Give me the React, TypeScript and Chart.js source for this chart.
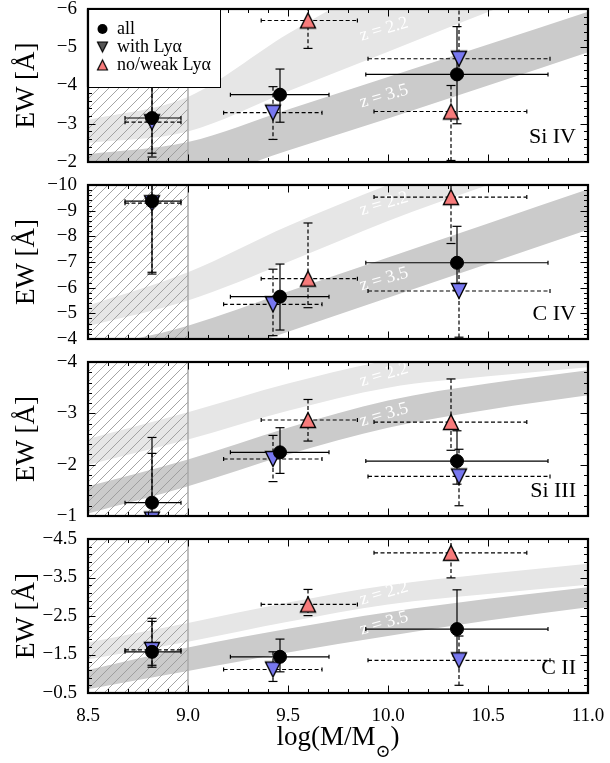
import React, { useEffect, useRef } from 'react';
import { Chart, registerables } from 'chart.js';

Chart.register(...registerables);

const SERIF = '"Liberation Serif", "DejaVu Serif", serif';
const LIGHT = '#e6e6e6';
const DARK = '#cbcbcb';
const BLUE = '#7878f0';
const RED = '#f77b7b';

// ---------- shared x data ----------
const xTicks = [8.5, 9.0, 9.5, 10.0, 10.5, 11.0];
const hatchRange = [8.5, 9.0];
const bandX = [8.5, 9.0, 9.5, 10.0, 10.5, 11.0];
const zLabelX = 9.98;

const allX = [8.82, 9.46, 10.345];
const allXLo = [8.685, 9.212, 9.889];
const allXHi = [8.965, 9.705, 10.8];
const withX = [8.82, 9.425, 10.355];
const withXLo = [8.685, 9.178, 9.9];
const withXHi = [8.965, 9.67, 10.81];
const weakX = [9.6, 10.315];
const weakXLo = [9.366, 9.93];
const weakXHi = [9.847, 10.694];

const panelNames = ['Si IV', 'C IV', 'Si III', 'C II'];
const legendLabels = ['all', 'with Ly\u03b1', 'no/weak Ly\u03b1'];
const bandLabels = ['z = 2.2', 'z = 3.5'];

// ---------- Si IV ----------
const siivTicks = [-6, -5, -4, -3, -2];
const siivAll = [-3.15, -3.76, -4.29];
const siivAllLo = [-4.1, -4.43, -5.54];
const siivAllHi = [-2.23, -3.04, -3.0];
const siivWith = [-3.04, -3.29, -4.7];
const siivWithLo = [-3.95, -3.97, -6.3];
const siivWithHi = [-2.13, -2.59, -4.25];
const siivWeak = [-5.7, -3.32];
const siivWeakLo = [-6.4, -4.0];
const siivWeakHi = [-4.97, -2.04];
const siivLightTop = [-3.1, -3.7, -5.35, -6.8, -8.0, -9.0];
const siivLightBot = [-2.5, -2.8, -3.85, -4.88, -5.92, -6.9];
const siivDarkTop = [-2.2, -2.52, -3.37, -4.22, -5.07, -5.93];
const siivDarkBot = [-1.1, -1.45, -2.3, -3.14, -4.0, -4.87];
const siivZ = [-5.47, -3.72];

// ---------- C IV ----------
const civTicks = [-10, -9, -8, -7, -6, -5, -4];
const civAll = [-9.37, -5.65, -6.97];
const civAllLo = [-12.2, -6.92, -8.39];
const civAllHi = [-6.53, -4.35, -5.9];
const civWith = [-9.29, -5.35, -5.87];
const civWithLo = [-12.0, -6.72, -7.0];
const civWithHi = [-6.6, -4.13, -4.07];
const civWeak = [-6.35, -9.53];
const civWeakLo = [-8.52, -10.5];
const civWeakHi = [-5.22, -7.72];
const civLightTop = [-5.3, -6.6, -8.4, -10.0, -11.4, -12.6];
const civLightBot = [-4.5, -5.5, -7.0, -8.6, -10.0, -11.3];
const civDarkTop = [-3.6, -4.52, -5.85, -7.18, -8.5, -9.83];
const civDarkBot = [-2.1, -2.95, -4.28, -5.61, -6.93, -8.26];
const civZ = [-9.27, -6.33];

// ---------- Si III ----------
const siiiTicks = [-4, -3, -2, -1];
const siiiAll = [-1.26, -2.24, -2.07];
const siiiAllLo = [-2.53, -2.72, -2.66];
const siiiAllHi = [0.0, -1.83, -1.62];
const siiiWith = [-0.93, -2.11, -1.77];
const siiiWithLo = [-2.22, -2.57, -2.3];
const siiiWithHi = [0.3, -1.67, -1.2];
const siiiWeak = [-2.87, -2.83];
const siiiWeakLo = [-3.27, -3.67];
const siiiWeakHi = [-2.46, -2.28];
const siiiLightTop = [-2.5, -3.02, -3.58, -4.03, -4.25, -4.42];
const siiiLightBot = [-2.0, -2.49, -3.05, -3.5, -3.72, -3.9];
const siiiDarkTop = [-1.58, -2.1, -2.72, -3.25, -3.58, -3.84];
const siiiDarkBot = [-1.05, -1.58, -2.2, -2.72, -3.07, -3.35];
const siiiZ = [-3.75, -2.97];

// ---------- C II ----------
const ciiTicks = [-4.5, -3.5, -2.5, -1.5, -0.5];
const ciiAll = [-1.57, -1.44, -2.16];
const ciiAllLo = [-2.44, -1.9, -3.18];
const ciiAllHi = [-1.17, -1.05, -1.46];
const ciiWith = [-1.62, -1.11, -1.35];
const ciiWithLo = [-2.36, -1.57, -1.98];
const ciiWithHi = [-1.22, -0.8, -0.7];
const ciiWeak = [-2.8, -4.14];
const ciiWeakLo = [-3.19, -4.9];
const ciiWeakHi = [-2.51, -3.49];
const ciiLightTop = [-1.81, -2.32, -2.85, -3.3, -3.6, -3.86];
const ciiLightBot = [-1.37, -1.83, -2.35, -2.8, -3.07, -3.31];
const ciiDarkTop = [-1.1, -1.68, -2.17, -2.6, -2.95, -3.25];
const ciiDarkBot = [-0.6, -1.07, -1.55, -1.98, -2.38, -2.73];
const ciiZ = [-3.09, -2.31];

type Panel = {
  name: string;
  top: number;
  yTicks: number[];
  all: number[]; allLo: number[]; allHi: number[];
  wy: number[]; wLo: number[]; wHi: number[];
  ky: number[]; kLo: number[]; kHi: number[];
  lt: number[]; lb: number[]; dt: number[]; db: number[];
  z: number[];
};

const W = 610;
const H = 763;
const PLOT_LEFT = 88;
const PLOT_RIGHT = 588;
const PLOT_H = 154;
const X_AXIS_H = 30;
const panelTops = [8, 185, 362, 539];

const panels: Panel[] = [
  { name: panelNames[0], top: panelTops[0], yTicks: siivTicks, all: siivAll, allLo: siivAllLo, allHi: siivAllHi, wy: siivWith, wLo: siivWithLo, wHi: siivWithHi, ky: siivWeak, kLo: siivWeakLo, kHi: siivWeakHi, lt: siivLightTop, lb: siivLightBot, dt: siivDarkTop, db: siivDarkBot, z: siivZ },
  { name: panelNames[1], top: panelTops[1], yTicks: civTicks, all: civAll, allLo: civAllLo, allHi: civAllHi, wy: civWith, wLo: civWithLo, wHi: civWithHi, ky: civWeak, kLo: civWeakLo, kHi: civWeakHi, lt: civLightTop, lb: civLightBot, dt: civDarkTop, db: civDarkBot, z: civZ },
  { name: panelNames[2], top: panelTops[2], yTicks: siiiTicks, all: siiiAll, allLo: siiiAllLo, allHi: siiiAllHi, wy: siiiWith, wLo: siiiWithLo, wHi: siiiWithHi, ky: siiiWeak, kLo: siiiWeakLo, kHi: siiiWeakHi, lt: siiiLightTop, lb: siiiLightBot, dt: siiiDarkTop, db: siiiDarkBot, z: siiiZ },
  { name: panelNames[3], top: panelTops[3], yTicks: ciiTicks, all: ciiAll, allLo: ciiAllLo, allHi: ciiAllHi, wy: ciiWith, wLo: ciiWithLo, wHi: ciiWithHi, ky: ciiWeak, kLo: ciiWeakLo, kHi: ciiWeakHi, lt: ciiLightTop, lb: ciiLightBot, dt: ciiDarkTop, db: ciiDarkBot, z: ciiZ },
];

function makeTri(fill: string, down: boolean, size: number, lw: number): HTMLCanvasElement {
  const S = Math.ceil(size + 2 * lw + 4);
  const c = document.createElement('canvas');
  c.width = S;
  c.height = S;
  const g = c.getContext('2d')!;
  const cx = S / 2, cy = S / 2, h = size / 2;
  g.beginPath();
  if (down) {
    g.moveTo(cx - h, cy - h); g.lineTo(cx + h, cy - h); g.lineTo(cx, cy + h);
  } else {
    g.moveTo(cx, cy - h); g.lineTo(cx + h, cy + h); g.lineTo(cx - h, cy + h);
  }
  g.closePath();
  g.fillStyle = fill;
  g.fill();
  g.lineWidth = lw;
  g.lineJoin = 'miter';
  g.strokeStyle = '#000';
  g.stroke();
  return c;
}

function fmtY(v: number): string {
  const a = Math.abs(v);
  const s = Number.isInteger(a) ? String(a) : a.toFixed(1);
  return (v < 0 ? '\u2212' : '') + s;
}

function line(ctx: CanvasRenderingContext2D, x1: number, y1: number, x2: number, y2: number) {
  ctx.beginPath();
  ctx.moveTo(x1, y1);
  ctx.lineTo(x2, y2);
  ctx.stroke();
}

function drawErrors(ctx: CanvasRenderingContext2D, xS: any, yS: any, xs: number[], xlo: number[], xhi: number[], ys: number[], ylo: number[], yhi: number[], dashed: boolean) {
  ctx.save();
  ctx.strokeStyle = '#000';
  ctx.lineWidth = 1.2;
  for (let i = 0; i < xs.length; i++) {
    const px = xS.getPixelForValue(xs[i]);
    const py = yS.getPixelForValue(ys[i]);
    const x1 = xS.getPixelForValue(xlo[i]);
    const x2 = xS.getPixelForValue(xhi[i]);
    const y1 = yS.getPixelForValue(ylo[i]);
    const y2 = yS.getPixelForValue(yhi[i]);
    ctx.setLineDash(dashed ? [4, 2.5] : []);
    line(ctx, x1, py, x2, py);
    line(ctx, px, y1, px, y2);
    ctx.setLineDash([]);
    line(ctx, x1, py - 2, x1, py + 2);
    line(ctx, x2, py - 2, x2, py + 2);
    line(ctx, px - 4.5, y1, px + 4.5, y1);
    line(ctx, px - 4.5, y2, px + 4.5, y2);
  }
  ctx.restore();
}

function makePlugin(p: Panel, idx: number, isLast: boolean, legendTris: HTMLCanvasElement[]) {
  return {
    id: 'deco' + idx,
    beforeDatasetsDraw(chart: any) {
      const { ctx, chartArea: a, scales } = chart;
      const xS = scales.x, yS = scales.y;
      ctx.save();
      ctx.beginPath();
      ctx.rect(a.left, a.top, a.right - a.left, a.bottom - a.top);
      ctx.clip();
      const hx0 = xS.getPixelForValue(hatchRange[0]);
      const hx1 = xS.getPixelForValue(hatchRange[1]);
      ctx.save();
      ctx.beginPath();
      ctx.rect(hx0, a.top, hx1 - hx0, a.bottom - a.top);
      ctx.clip();
      ctx.strokeStyle = '#9a9a9a';
      ctx.lineWidth = 0.9;
      const hh = a.bottom - a.top;
      for (let s = -hh; s < hx1 - hx0 + hh; s += 10) {
        line(ctx, hx0 + s, a.bottom, hx0 + s + hh, a.top);
      }
      ctx.restore();
      ctx.strokeStyle = '#aaaaaa';
      ctx.lineWidth = 1.5;
      line(ctx, hx1, a.top, hx1, a.bottom);
      for (let k = 0; k < 2; k++) {
        ctx.save();
        ctx.translate(xS.getPixelForValue(zLabelX), yS.getPixelForValue(p.z[k]));
        ctx.rotate(-16 * Math.PI / 180);
        ctx.fillStyle = '#ffffff';
        ctx.font = '18px ' + SERIF;
        ctx.textAlign = 'center';
        ctx.textBaseline = 'middle';
        ctx.fillText(bandLabels[k], 0, 0);
        ctx.restore();
      }
      drawErrors(ctx, xS, yS, weakX, weakXLo, weakXHi, p.ky, p.kLo, p.kHi, true);
      drawErrors(ctx, xS, yS, withX, withXLo, withXHi, p.wy, p.wLo, p.wHi, true);
      drawErrors(ctx, xS, yS, allX, allXLo, allXHi, p.all, p.allLo, p.allHi, false);
      ctx.restore();
    },
    afterDatasetsDraw(chart: any) {
      const { ctx, chartArea: a, scales } = chart;
      const xS = scales.x, yS = scales.y;
      ctx.save();
      ctx.strokeStyle = '#000';
      ctx.lineWidth = 1;
      for (let i = 0; i <= 25; i++) {
        const v = 8.5 + i * 0.1;
        const px = Math.round(xS.getPixelForValue(v)) + 0.5;
        const len = i % 5 === 0 ? 7.5 : 4;
        line(ctx, px, a.top, px, a.top + len);
        line(ctx, px, a.bottom, px, a.bottom - len);
      }
      const y0 = p.yTicks[0];
      const yN = p.yTicks[p.yTicks.length - 1];
      const nMinor = Math.round((yN - y0) / 0.2);
      for (let i = 0; i <= nMinor; i++) {
        const v = y0 + i * 0.2;
        const py = Math.round(yS.getPixelForValue(v)) + 0.5;
        const len = i % 5 === 0 ? 7.5 : 4;
        line(ctx, a.left, py, a.left + len, py);
        line(ctx, a.right, py, a.right - len, py);
      }
      ctx.lineWidth = 2.2;
      ctx.strokeRect(a.left, a.top, a.right - a.left, a.bottom - a.top);
      ctx.fillStyle = '#000';
      ctx.font = '22px ' + SERIF;
      ctx.textAlign = 'right';
      ctx.textBaseline = 'alphabetic';
      ctx.fillText(p.name, a.right - 12, a.bottom - 19);
      if (idx === 0) {
        ctx.fillStyle = '#fff';
        ctx.fillRect(a.left, a.top, 132, 78);
        ctx.strokeStyle = '#000';
        ctx.lineWidth = 1;
        ctx.strokeRect(a.left + 0.5, a.top + 0.5, 132, 78);
        ctx.lineWidth = 2.2;
        line(ctx, a.left, a.top, a.left + 132, a.top);
        line(ctx, a.left, a.top, a.left, a.top + 78);
        const mx = a.left + 14.5;
        const rows = [a.top + 20, a.top + 38, a.top + 56];
        ctx.fillStyle = '#000';
        ctx.beginPath();
        ctx.arc(mx, rows[0], 5, 0, Math.PI * 2);
        ctx.fill();
        ctx.drawImage(legendTris[0], mx - legendTris[0].width / 2, rows[1] - legendTris[0].height / 2);
        ctx.drawImage(legendTris[1], mx - legendTris[1].width / 2, rows[2] - legendTris[1].height / 2);
        ctx.fillStyle = '#000';
        ctx.font = '18px ' + SERIF;
        ctx.textAlign = 'left';
        ctx.textBaseline = 'middle';
        for (let k = 0; k < 3; k++) ctx.fillText(legendLabels[k], a.left + 29, rows[k]);
      }
      ctx.restore();
    },
    afterDraw(chart: any) {
      if (!isLast) return;
      const { ctx, chartArea: a } = chart;
      ctx.save();
      ctx.fillStyle = '#000';
      ctx.textBaseline = 'alphabetic';
      ctx.textAlign = 'left';
      const big = '27px ' + SERIF;
      const small = '18px ' + SERIF;
      const t1 = 'log(M/M';
      const t2 = '\u2299';
      const t3 = ')';
      ctx.font = big;
      const w1 = ctx.measureText(t1).width;
      const w3 = ctx.measureText(t3).width;
      ctx.font = small;
      const w2 = ctx.measureText(t2).width;
      const total = w1 + w2 + w3;
      const cx = (a.left + a.right) / 2;
      let x = cx - total / 2;
      const base = 745;
      ctx.font = big;
      ctx.fillText(t1, x, base);
      x += w1;
      ctx.font = small;
      ctx.fillText(t2, x, base + 12);
      x += w2;
      ctx.font = big;
      ctx.fillText(t3, x, base);
      ctx.restore();
    },
  };
}

export default function App() {
  const refs = [useRef<HTMLCanvasElement>(null), useRef<HTMLCanvasElement>(null), useRef<HTMLCanvasElement>(null), useRef<HTMLCanvasElement>(null)];

  useEffect(() => {
    const triWith = makeTri(BLUE, true, 15, 1.4);
    const triWeak = makeTri(RED, false, 15, 1.4);
    const legWith = makeTri('#555555', true, 10, 1.2);
    const legWeak = makeTri(RED, false, 10, 1.2);
    const charts: Chart[] = [];
    panels.forEach((p, idx) => {
      const cv = refs[idx].current;
      if (!cv) return;
      const isLast = idx === panels.length - 1;
      const plotBottom = p.top + PLOT_H;
      const padBottom = isLast ? H - plotBottom - X_AXIS_H : H - plotBottom;
      const yMin = p.yTicks[0];
      const yMax = p.yTicks[p.yTicks.length - 1];
      const pts = (xs: number[], ys: number[]) => xs.map((x, i) => ({ x, y: ys[i] }));
      const band = (ys: number[]) => bandX.map((x, i) => ({ x, y: ys[i] }));
      const chart = new Chart(cv, {
        type: 'line',
        data: {
          datasets: [
            { data: pts(allX, p.all), showLine: false, pointStyle: 'circle', pointRadius: 6.5, pointBackgroundColor: '#000', pointBorderColor: '#000', pointBorderWidth: 1, order: 1, clip: 0 } as any,
            { data: pts(withX, p.wy), showLine: false, pointStyle: triWith, pointRadius: 8, order: 2, clip: 0 } as any,
            { data: pts(weakX, p.ky), showLine: false, pointStyle: triWeak, pointRadius: 8, order: 3, clip: 0 } as any,
            { data: band(p.lt), borderColor: 'rgba(0,0,0,0)', borderWidth: 0, pointRadius: 0, fill: '+1', backgroundColor: LIGHT, cubicInterpolationMode: 'monotone', order: 10 } as any,
            { data: band(p.lb), borderColor: 'rgba(0,0,0,0)', borderWidth: 0, pointRadius: 0, fill: false, cubicInterpolationMode: 'monotone', order: 11 } as any,
            { data: band(p.dt), borderColor: 'rgba(0,0,0,0)', borderWidth: 0, pointRadius: 0, fill: '+1', backgroundColor: DARK, cubicInterpolationMode: 'monotone', order: 12 } as any,
            { data: band(p.db), borderColor: 'rgba(0,0,0,0)', borderWidth: 0, pointRadius: 0, fill: false, cubicInterpolationMode: 'monotone', order: 13 } as any,
          ],
        },
        options: {
          responsive: false,
          animation: false,
          devicePixelRatio: 1,
          events: [],
          layout: { padding: { left: 0, right: W - PLOT_RIGHT, top: p.top, bottom: padBottom } },
          plugins: {
            legend: { display: false },
            tooltip: { enabled: false },
            filler: { drawTime: 'beforeDatasetsDraw', propagate: false },
          } as any,
          scales: {
            x: {
              type: 'linear',
              min: xTicks[0],
              max: xTicks[xTicks.length - 1],
              display: isLast,
              afterBuildTicks: (s: any) => { s.ticks = xTicks.map((v) => ({ value: v })); },
              afterFit: (s: any) => {
                s.height = isLast ? X_AXIS_H : 0;
                s.paddingLeft = 0; s.paddingRight = 0; s.paddingTop = 0; s.paddingBottom = 0;
              },
              grid: { display: false, drawTicks: false },
              border: { display: false },
              ticks: {
                autoSkip: false,
                maxRotation: 0,
                padding: 12,
                color: '#000',
                font: { family: SERIF, size: 19 },
                callback: (v: any) => Number(v).toFixed(1),
              },
            },
            y: {
              type: 'linear',
              min: yMin,
              max: yMax,
              reverse: true,
              afterBuildTicks: (s: any) => { s.ticks = p.yTicks.map((v) => ({ value: v })); },
              afterFit: (s: any) => {
                s.width = PLOT_LEFT;
                s.paddingLeft = 0; s.paddingRight = 0; s.paddingTop = 0; s.paddingBottom = 0;
              },
              grid: { display: false, drawTicks: false },
              border: { display: false },
              ticks: {
                autoSkip: false,
                padding: 11,
                color: '#000',
                font: { family: SERIF, size: 19 },
                callback: (v: any) => fmtY(Number(v)),
              },
              title: {
                display: true,
                text: 'EW [\u00c5]',
                color: '#000',
                font: { family: SERIF, size: 27 },
                padding: { top: 11, bottom: 0 },
              },
            },
          } as any,
        },
        plugins: [makePlugin(p, idx, isLast, [legWith, legWeak])],
      });
      const a = chart.chartArea;
      const dTop = p.top - a.top;
      const dBot = plotBottom - a.bottom;
      if (Math.abs(dTop) > 0.2 || Math.abs(dBot) > 0.2) {
        (chart.options as any).layout.padding = { left: 0, right: W - PLOT_RIGHT, top: p.top + dTop, bottom: padBottom - dBot };
        chart.update();
      }
      charts.push(chart);
    });
    return () => { charts.forEach((c) => c.destroy()); };
  }, []);

  return (
    <div style={{ position: 'absolute', left: 0, top: 0, width: W, height: H, background: '#fff' }}>
      {refs.map((r, i) => (
        <canvas key={i} ref={r} width={W} height={H} style={{ position: 'absolute', left: 0, top: 0, width: W, height: H }} />
      ))}
    </div>
  );
}
